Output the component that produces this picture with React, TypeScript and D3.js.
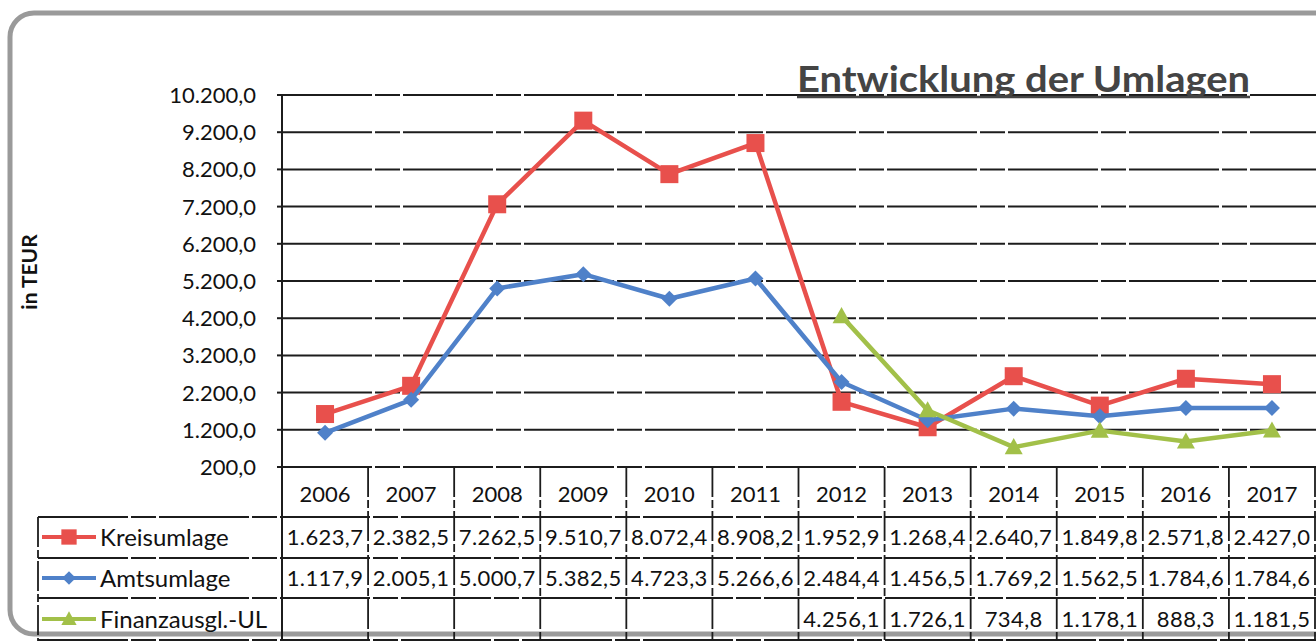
import React from "react";
import * as d3 from "d3";

const years = ["2006", "2007", "2008", "2009", "2010", "2011", "2012", "2013", "2014", "2015", "2016", "2017"];
const kreisumlage = [1623.7, 2382.5, 7262.5, 9510.7, 8072.4, 8908.2, 1952.9, 1268.4, 2640.7, 1849.8, 2571.8, 2427.0];
const amtsumlage = [1117.9, 2005.1, 5000.7, 5382.5, 4723.3, 5266.6, 2484.4, 1456.5, 1769.2, 1562.5, 1784.6, 1784.6];
const finanzausgl: (number | null)[] = [null, null, null, null, null, null, 4256.1, 1726.1, 734.8, 1178.1, 888.3, 1181.5];
const yTicks = [200, 1200, 2200, 3200, 4200, 5200, 6200, 7200, 8200, 9200, 10200];

const seriesDefs = [
  { name: "Kreisumlage", values: kreisumlage as (number | null)[], color: "#e8504c", marker: "square" },
  { name: "Amtsumlage", values: amtsumlage as (number | null)[], color: "#4f81c9", marker: "diamond" },
  { name: "Finanzausgl.-UL", values: finanzausgl, color: "#a2c049", marker: "triangle" },
];

const locale = d3.formatLocale({ decimal: ",", thousands: ".", grouping: [3], currency: ["", "€"] });
const fmt = locale.format(",.1f");

const FONT = "Lato, 'Open Sans', sans-serif";

function Marker({ type, x, y, color, s = 1 }: { type: string; x: number; y: number; color: string; s?: number }) {
  if (type === "square") {
    const h = 9 * s;
    return <rect x={x - h} y={y - h} width={2 * h} height={2 * h} fill={color} />;
  }
  if (type === "diamond") {
    const h = 8 * s;
    return <path d={`M${x},${y - h}L${x + h},${y}L${x},${y + h}L${x - h},${y}Z`} fill={color} />;
  }
  const h = 9 * s;
  return <path d={`M${x},${y - h}L${x + h},${y + h * 0.78}L${x - h},${y + h * 0.78}Z`} fill={color} />;
}

export default function App() {
  const left = 282;
  const right = 1315;
  const top = 95;
  const bottom = 467;
  const x = d3.scaleBand<string>().domain(years).range([left, right]).padding(0);
  const y = d3.scaleLinear().domain([200, 10200]).range([bottom, top]);
  const cx = (yr: string) => (x(yr) as number) + x.bandwidth() / 2;

  const rowLines = [517, 558, 598, 640];
  const rowCenters = [537, 578, 619];
  const gridStroke = "#1c1c1c";
  const dash = "90,3,25,3";
  const vdash = "30,3,8,3";

  return (
    <div style={{ position: "absolute", left: 0, top: 0 }}>
      <svg width={1316} height={641} style={{ display: "block", background: "#fff" }}>
        <rect x={0} y={0} width={1316} height={641} fill="#fff" />
        {/* frame */}
        <rect x={10} y={13} width={1360} height={621} rx={24} ry={24} fill="none" stroke="#9a9a9a" strokeWidth={5} />

        {/* gridlines */}
        {yTicks.map((t) => (
          <line key={t} x1={left} x2={right + 2} y1={y(t)} y2={y(t)} stroke={gridStroke} strokeWidth={2} strokeDasharray={dash} />
        ))}
        {/* y axis */}
        <line x1={left} x2={left} y1={top} y2={641} stroke={gridStroke} strokeWidth={2} />
        {yTicks.map((t) => (
          <line key={"tk" + t} x1={left - 5} x2={left} y1={y(t)} y2={y(t)} stroke={gridStroke} strokeWidth={2} />
        ))}
        {yTicks.map((t) => (
          <text key={"tl" + t} x={256} y={y(t)} dy="0.36em" textAnchor="end" fontFamily={FONT} fontSize={22} fill="#111">
            {fmt(t)}
          </text>
        ))}
        <text transform="translate(37,272) rotate(-90)" textAnchor="middle" fontFamily={FONT} fontSize={21} fontWeight={700} fill="#111">
          in TEUR
        </text>

        {/* title */}
        <text x={797} y={92} fontFamily={FONT} fontSize={36} fontWeight={700} fill="#444" textLength={453} lengthAdjust="spacingAndGlyphs">
          Entwicklung der Umlagen
        </text>
        <line x1={797} x2={1250} y1={97} y2={97} stroke="#444" strokeWidth={2.5} />

        {/* series */}
        {seriesDefs.map((s) => {
          const pts = years.map((yr, i) => ({ yr, v: s.values[i] })).filter((p) => p.v != null) as { yr: string; v: number }[];
          const line = d3
            .line<{ yr: string; v: number }>()
            .x((p) => cx(p.yr))
            .y((p) => y(p.v));
          return (
            <g key={s.name}>
              <path d={line(pts) || ""} fill="none" stroke={s.color} strokeWidth={4.5} strokeLinejoin="round" />
              {pts.map((p) => (
                <Marker key={p.yr} type={s.marker} x={cx(p.yr)} y={y(p.v)} color={s.color} />
              ))}
            </g>
          );
        })}

        {/* data table */}
        {years.map((yr) => (
          <line key={"v" + yr} x1={(x(yr) as number) + x.bandwidth()} x2={(x(yr) as number) + x.bandwidth()} y1={bottom} y2={641} stroke={gridStroke} strokeWidth={1.8} strokeDasharray={vdash} />
        ))}
        <line x1={38} x2={38} y1={rowLines[0]} y2={641} stroke={gridStroke} strokeWidth={1.8} strokeDasharray={vdash} />
        {rowLines.map((ry) => (
          <line key={"h" + ry} x1={38} x2={1316} y1={ry} y2={ry} stroke={gridStroke} strokeWidth={1.8} strokeDasharray={dash} />
        ))}
        {years.map((yr) => (
          <text key={"yr" + yr} x={cx(yr)} y={494} dy="0.36em" textAnchor="middle" fontFamily={FONT} fontSize={22} fill="#111">
            {yr}
          </text>
        ))}
        {seriesDefs.map((s, si) => (
          <g key={"row" + s.name}>
            <line x1={42} x2={96} y1={rowCenters[si]} y2={rowCenters[si]} stroke={s.color} strokeWidth={4} />
            <Marker type={s.marker} x={69} y={rowCenters[si]} color={s.color} s={0.85} />
            <text x={100} y={rowCenters[si]} dy="0.36em" fontFamily={FONT} fontSize={24} fill="#111">
              {s.name}
            </text>
            {years.map((yr, i) =>
              s.values[i] == null ? null : (
                <text key={yr} x={cx(yr)} y={rowCenters[si]} dy="0.36em" textAnchor="middle" fontFamily={FONT} fontSize={22} fill="#111" letterSpacing={0.4}>
                  {fmt(s.values[i] as number)}
                </text>
              )
            )}
          </g>
        ))}
      </svg>
    </div>
  );
}
